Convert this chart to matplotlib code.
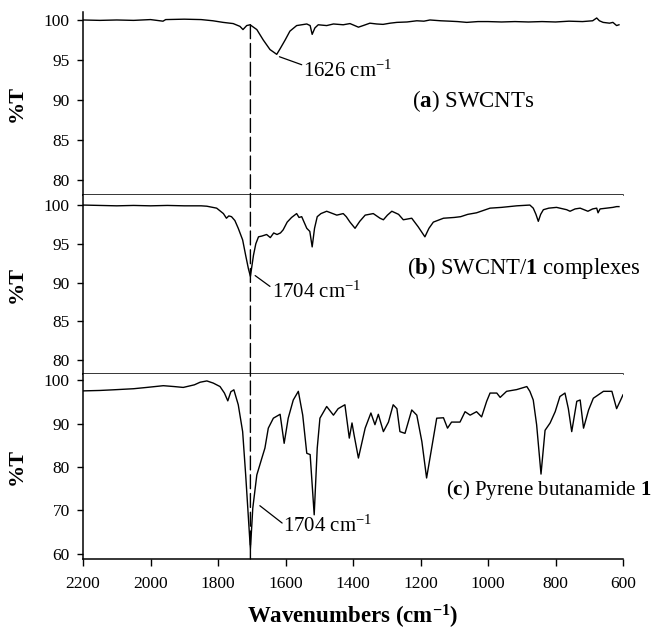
import matplotlib
matplotlib.use("Agg")
import matplotlib.pyplot as plt
from matplotlib.patches import ConnectionPatch

plt.rcParams["font.family"] = ["Liberation Serif", "DejaVu Serif"]
plt.rcParams["mathtext.fontset"] = "custom"
plt.rcParams["mathtext.rm"] = "Liberation Serif"
plt.rcParams["mathtext.it"] = "Liberation Serif:italic"
plt.rcParams["mathtext.bf"] = "Liberation Serif:bold"

# (a) SWCNTs
wn_a = [2200, 2150, 2100, 2050, 2000, 1963, 1955, 1900, 1850, 1815,
        1785, 1755, 1735, 1726, 1715, 1705, 1685, 1666, 1646, 1626,
        1616, 1601, 1587, 1567, 1537, 1527, 1521, 1513, 1503, 1478,
        1458, 1429, 1409, 1395, 1384, 1370, 1350, 1330, 1311, 1290,
        1270, 1240, 1211, 1190, 1172, 1140, 1113, 1090, 1063, 1030,
        1000, 960, 920, 880, 840, 800, 760, 720, 690, 678,
        670, 659, 640, 630, 619, 612]
t_a = [100.0, 99.95, 100.0, 99.95, 100.05, 99.85, 100.05, 100.1, 100.05, 99.9,
       99.7, 99.55, 99.2, 98.8, 99.3, 99.4, 98.8, 97.5, 96.3, 95.7,
       96.4, 97.5, 98.6, 99.3, 99.5, 99.3, 98.2, 99.0, 99.4, 99.3,
       99.5, 99.4, 99.55, 99.3, 99.1, 99.3, 99.6, 99.5, 99.45, 99.6,
       99.7, 99.75, 99.9, 99.85, 100.0, 99.9, 99.85, 99.8, 99.7, 99.8,
       99.8, 99.75, 99.8, 99.75, 99.8, 99.75, 99.85, 99.8, 99.9, 100.25,
       99.9, 99.7, 99.6, 99.7, 99.3, 99.4]

# (b) SWCNT/1 complexes
wn_b = [2200, 2150, 2100, 2050, 2000, 1950, 1900, 1850, 1833, 1804,
        1784, 1775, 1768, 1760, 1750, 1740, 1727, 1718, 1710, 1704,
        1695, 1688, 1680, 1670, 1656, 1645, 1635, 1625, 1615, 1607,
        1595, 1582, 1567, 1560, 1552, 1537, 1528, 1521, 1514, 1506,
        1495, 1478, 1460, 1448, 1429, 1420, 1409, 1394, 1380, 1364,
        1340, 1320, 1310, 1298, 1285, 1265, 1251, 1226, 1207, 1187,
        1175, 1162, 1132, 1100, 1081, 1060, 1034, 994, 960, 915,
        876, 866, 858, 851, 844, 836, 820, 797, 767, 757,
        742, 727, 704, 690, 678, 674, 668, 649, 630, 619,
        612]
t_b = [100.0, 99.95, 99.9, 99.95, 99.9, 99.95, 99.9, 99.9, 99.85, 99.6,
       98.9, 98.3, 98.6, 98.5, 98.0, 97.0, 95.5, 93.5, 91.8, 90.8,
       93.5, 95.0, 95.9, 96.0, 96.2, 95.8, 96.4, 96.2, 96.4, 96.8,
       97.8, 98.4, 98.9, 98.4, 98.5, 97.0, 96.6, 94.6, 97.0, 98.5,
       98.9, 99.2, 98.9, 98.7, 98.9, 98.5, 97.8, 97.0, 97.9, 98.7,
       98.9, 98.3, 98.1, 98.7, 99.2, 98.8, 98.1, 98.3, 97.2, 95.9,
       97.0, 97.8, 98.3, 98.4, 98.5, 98.8, 99.0, 99.6, 99.7, 99.9,
       100.0, 99.6, 98.8, 97.9, 98.8, 99.4, 99.6, 99.7, 99.4, 99.2,
       99.5, 99.6, 99.2, 99.5, 99.6, 99.0, 99.5, 99.6, 99.7, 99.8,
       99.8]

# (c) pyrene butanamide 1
wn_c = [2200, 2150, 2110, 2050, 2011, 1962, 1930, 1903, 1870, 1853,
        1833, 1814, 1794, 1781, 1771, 1762, 1753, 1740, 1727, 1718,
        1704, 1697, 1685, 1670, 1661, 1651, 1636, 1616, 1604, 1592,
        1577, 1562, 1549, 1537, 1527, 1515, 1506, 1498, 1478, 1458,
        1444, 1424, 1411, 1403, 1397, 1384, 1364, 1347, 1335, 1325,
        1310, 1295, 1281, 1270, 1261, 1246, 1226, 1211, 1196, 1182,
        1167, 1152, 1132, 1120, 1108, 1083, 1068, 1053, 1034, 1019,
        1004, 994, 974, 964, 945, 915, 885, 876, 866, 856,
        843, 831, 816, 801, 787, 772, 762, 752, 737, 727,
        717, 702, 688, 658, 633, 619, 607, 600]
t_c = [97.6, 97.7, 97.85, 98.1, 98.4, 98.8, 98.6, 98.4, 99.0, 99.6,
       99.9, 99.4, 98.6, 97.1, 95.3, 97.4, 97.85, 94.4, 88.2, 78.2,
       61.0, 70.5, 78.2, 82.1, 84.4, 89.0, 91.3, 92.2, 85.5, 91.3,
       95.5, 97.5, 92.0, 83.2, 82.9, 69.0, 84.4, 91.3, 94.0, 92.0,
       93.5, 94.4, 86.7, 90.2, 87.5, 82.1, 89.0, 92.5, 89.8, 92.2,
       88.2, 90.4, 94.4, 93.5, 88.2, 87.8, 93.2, 92.0, 85.9, 77.5,
       84.4, 91.3, 91.4, 89.0, 90.4, 90.4, 92.8, 92.0, 92.8, 91.6,
       95.2, 97.1, 97.1, 96.1, 97.5, 97.9, 98.6, 97.5, 95.5, 89.8,
       78.4, 88.5, 90.2, 92.8, 96.3, 97.1, 93.5, 88.2, 95.2, 95.5,
       89.0, 93.2, 95.9, 97.5, 97.5, 93.5, 95.5, 96.7]

peak_a = 1626
peak_co = 1704

fig = plt.figure(figsize=(6.53, 6.31), dpi=100)
ax1 = fig.add_axes([0.1271, 0.6910, 0.8270, 0.2900])
ax2 = fig.add_axes([0.1271, 0.4073, 0.8270, 0.2837])
ax3 = fig.add_axes([0.1271, 0.1141, 0.8270, 0.2932])

for ax, wn, t in [(ax1, wn_a, t_a), (ax2, wn_b, t_b), (ax3, wn_c, t_c)]:
    ax.plot(wn, t, color="black", lw=1.0)
    ax.set_xlim(2200, 600)
    for side in ["top", "right"]:
        ax.spines[side].set_visible(False)
    for side in ["left", "bottom"]:
        ax.spines[side].set_linewidth(1.1)
    ax.tick_params(axis="y", direction="out", length=4.5, width=1.0,
                   labelsize=12.5, pad=5)
    ax.set_ylabel("%T", fontsize=16, fontweight="bold")
    ax.yaxis.set_label_coords(-0.104, 0.5)

ax1.set_ylim(78.1, 101.0)
ax2.set_ylim(78.2, 101.3)
ax3.set_ylim(58.8, 101.5)
ax1.set_yticks([80, 85, 90, 95, 100])
ax2.set_yticks([80, 85, 90, 95, 100])
ax3.set_yticks([60, 70, 80, 90, 100])
for ax in (ax1, ax2):
    ax.tick_params(axis="x", bottom=False, labelbottom=False)
ax3.set_xticks(list(range(2200, 599, -200)))
ax3.tick_params(axis="x", direction="out", length=5, width=1.0,
                labelsize=12.5, pad=7)
ax3.set_xlabel(r"Wavenumbers (cm$^{\mathbf{-1}}$)", fontsize=16.5,
               fontweight="bold", labelpad=8)

# dashed guide at the C=O band running through all three spectra
guide = ConnectionPatch(xyA=(peak_co, 99.4), coordsA=ax1.transData,
                        xyB=(peak_co, 58.8), coordsB=ax3.transData,
                        color="black", lw=1.0, linestyle=(0, (10, 3.5)))
fig.add_artist(guide)

# peak labels with leader lines
line_kw = dict(arrowstyle="-", color="black", lw=0.9, shrinkA=0, shrinkB=0)
ax1.annotate("", xy=(peak_a - 8, 95.4), xytext=(1552, 94.4), arrowprops=line_kw)
ax1.text(1549, 93.6, "1626 cm$^{-1}$", fontsize=15, ha="left", va="center")

ax2.annotate("", xy=(peak_co - 14, 90.9), xytext=(1646, 89.5), arrowprops=line_kw)
ax2.text(1641, 88.7, "1704 cm$^{-1}$", fontsize=15, ha="left", va="center")

ax3.annotate("", xy=(1676, 71.1), xytext=(1610, 67.1), arrowprops=line_kw)
ax3.text(1607, 66.3, "1704 cm$^{-1}$", fontsize=15, ha="left", va="center")

# sample names
ax1.text(1225, 89.9, r"($\mathbf{a}$) SWCNTs", fontsize=16.5, ha="left", va="center")
ax2.text(1240, 91.9, r"($\mathbf{b}$) SWCNT/$\mathbf{1}$ complexes", fontsize=16.3,
         ha="left", va="center")
ax3.text(1124, 74.8, r"($\mathbf{c}$) Pyrene butanamide $\mathbf{1}$", fontsize=15,
         ha="left", va="center")

fig.savefig("out.png", dpi=100)
